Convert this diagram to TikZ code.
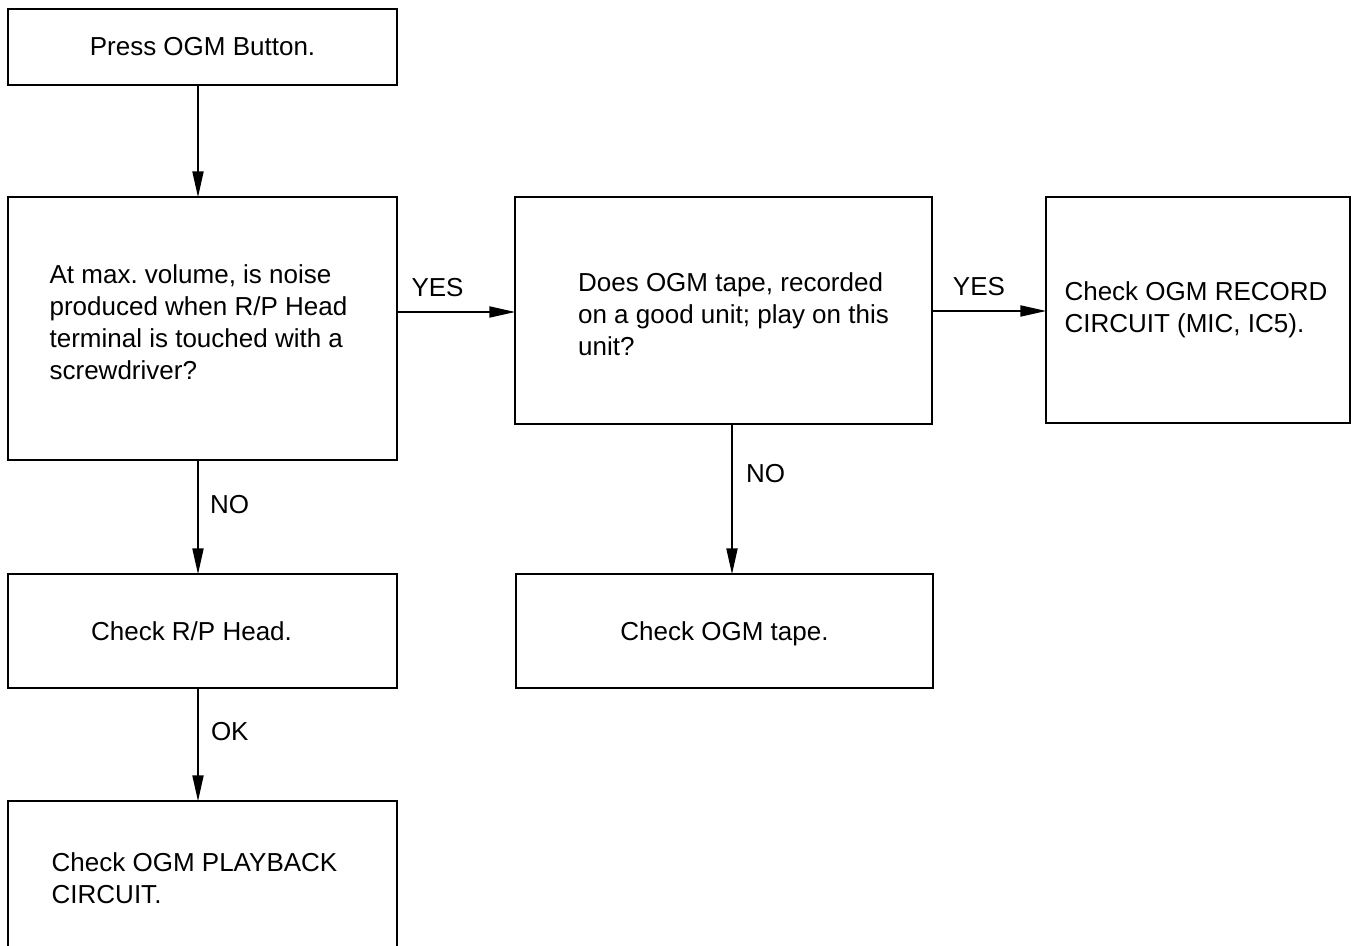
\documentclass[tikz,border=0pt]{standalone}
\usepackage{fontspec}
\setmainfont{Liberation Sans}
\usetikzlibrary{arrows.meta}
\frenchspacing
\begin{document}
\begin{tikzpicture}[x=0.5pt,y=-0.5pt,
  box/.style={draw, line width=1.3pt, rectangle, inner sep=0pt, align=left,
    font=\fontsize{13}{16}\selectfont},
  flow/.style={line width=1pt, shorten >=-0.8pt, -{Triangle[length=13pt,width=5.5pt]}},
  lbl/.style={font=\fontsize{13}{16}\selectfont, inner sep=0pt}]
\useasboundingbox (0,0) rectangle (1356,946);
\clip (0,0) rectangle (1356,946);
\node[box, minimum width=194.5pt, minimum height=38pt] (b1) at (202.5,47) {Press OGM Button.};
\node[box, minimum width=194.5pt, minimum height=131.5pt] (b2) at (202.5,328.5)
  {At max. volume, is noise\\produced when R/P Head\kern4pt\\terminal is touched with a\\screwdriver?\rule[-6pt]{0pt}{6pt}};
\node[box, minimum width=194.5pt, minimum height=57pt] (b3) at (202.5,631) {Check R/P Head.\kern11pt};
\node[box, minimum width=194.5pt, minimum height=77.5pt] (b4) at (202.5,878.5)
  {Check OGM PLAYBACK\kern8pt\\CIRCUIT.};
\node[box, minimum width=208.5pt, minimum height=113.5pt] (b5) at (723.5,310.5)
  {\hspace*{10pt}\rule{0pt}{13.5pt}Does OGM tape, recorded\\\hspace*{10pt}on a good unit; play on this\\\hspace*{10pt}unit?};
\node[box, minimum width=152pt, minimum height=113pt] (b6) at (1198,310)
  {Check OGM RECORD\kern2pt\\CIRCUIT (MIC, IC5).};
\node[box, minimum width=208.5pt, minimum height=57pt] (b7) at (724.5,631) {\rule{0pt}{12.5pt}Check OGM tape.};

\draw[flow] (b1.south -| 198,0) -- (b2.north -| 198,0);
\draw[flow] (b2.east |- 0,312) -- node[lbl, pos=0.34, yshift=12pt] (lyes1) {YES} (b5.west |- 0,312);
\draw[flow] (b5.east |- 0,311) -- node[lbl, pos=0.41, yshift=12pt] (lyes2) {YES} (b6.west |- 0,311);
\draw[flow] (b2.south -| 198,0) -- node[lbl, pos=0.39, anchor=west, xshift=5.5pt] (lno1) {NO} (b3.north -| 198,0);
\draw[flow] (b5.south -| 732,0) -- node[lbl, pos=0.33, anchor=west, xshift=6.5pt] (lno2) {NO} (b7.north -| 732,0);
\draw[flow] (b3.south -| 198,0) -- node[lbl, pos=0.38, anchor=west, xshift=6pt] (lok) {OK} (b4.north -| 198,0);
\end{tikzpicture}
\end{document}
